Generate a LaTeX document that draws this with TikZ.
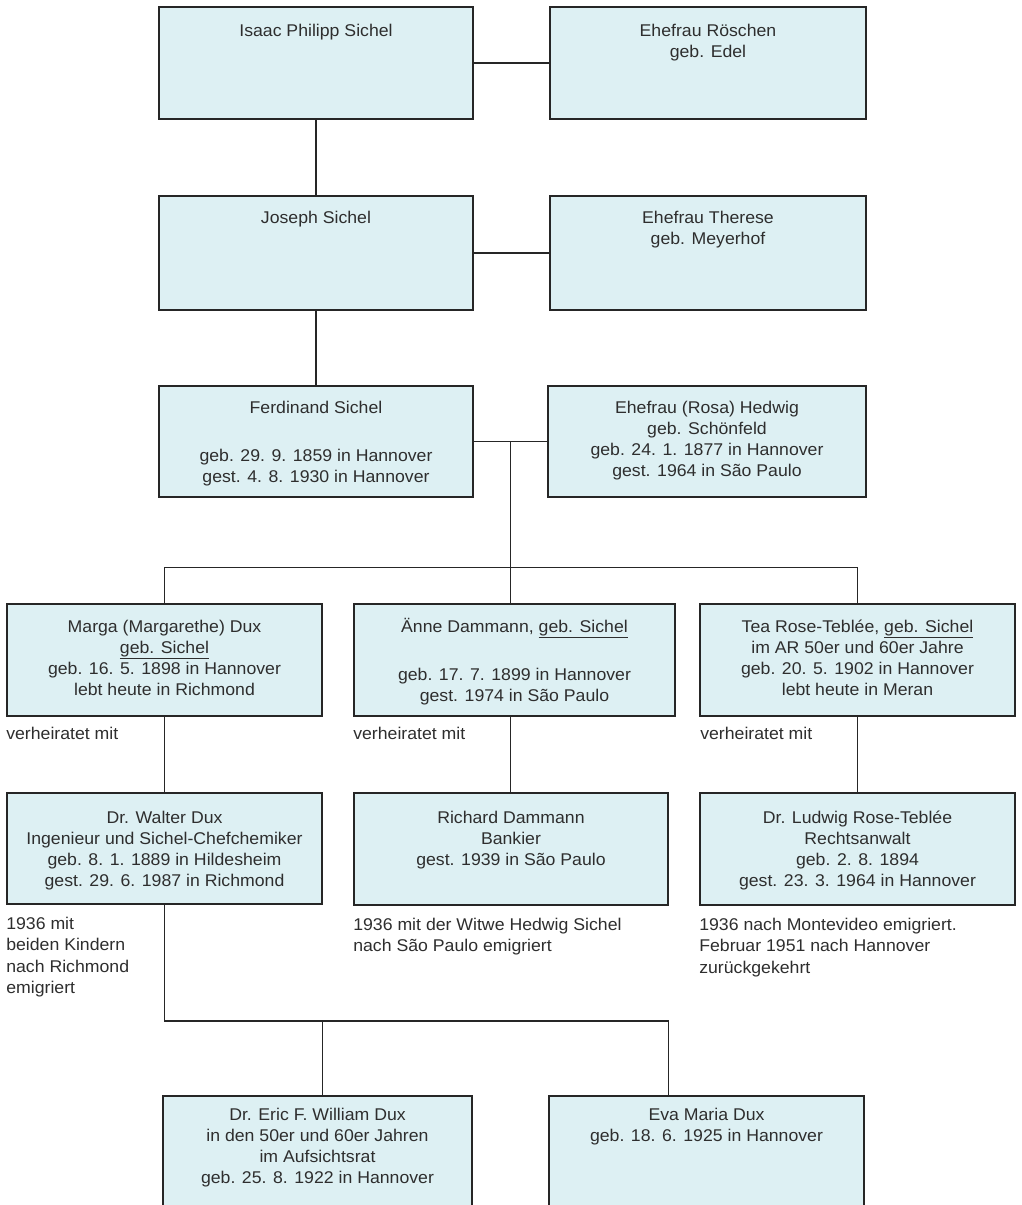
\documentclass[tikz,border=0pt]{standalone}
\usepackage{fontspec}
\setmainfont{Liberation Sans}[FakeStretch=1.04]
\definecolor{boxfill}{RGB}{221,240,243}
\definecolor{linecol}{HTML}{262626}
\definecolor{txtcol}{HTML}{2E2E2E}
\newcommand\mystrut{\rule{0pt}{16pt}}
\begin{document}
\begin{tikzpicture}[x=1pt,y=-1pt,
 box/.style={draw=linecol,line width=1.8pt,fill=boxfill,inner sep=0pt,minimum width=315pt,minimum height=112pt},
 txt/.style={anchor=north,inner sep=0pt,align=center,text=txtcol,font=\fontsize{17}{21}\selectfont},
 note/.style={anchor=north west,inner sep=0pt,align=left,text=txtcol,font=\fontsize{17}{21.5}\selectfont},
 conn/.style={draw=linecol,line width=1.6pt}]
\useasboundingbox (0,0) rectangle (1022,1205);
\fill[white] (0,0) rectangle (1022,1205);
\clip (0,0) rectangle (1022,1205);

% boxes
\node[box,minimum width=314pt] (isaac) at (316,63) {};
\node[box,minimum width=316pt] (roeschen) at (708,63) {};
\node[box,minimum width=314pt,minimum height=114pt] (joseph) at (316,253) {};
\node[box,minimum width=316pt,minimum height=114pt] (therese) at (708,253) {};
\node[box,minimum width=314pt,minimum height=111pt] (ferd) at (316,441.5) {};
\node[box,minimum width=318pt,minimum height=111pt] (hedwig) at (707,441.5) {};
\node[box] (marga) at (164.5,660) {};
\node[box,minimum width=321pt] (aenne) at (514.5,660) {};
\node[box] (tea) at (857.5,660) {};
\node[box,minimum height=111pt] (walter) at (164.5,848.5) {};
\node[box,minimum width=314pt] (richard) at (511,849) {};
\node[box] (ludwig) at (857.5,849) {};
\node[box,minimum width=309pt,minimum height=134pt] (eric) at (317.5,1163) {};
\node[box,minimum height=134pt] (eva) at (706.5,1163) {};

% connectors
\draw[conn] (isaac.east) -- (roeschen.west);
\draw[conn] (isaac.south) -- (joseph.north);
\draw[conn,line width=2.6pt] (joseph.east) -- (therese.west);
\draw[conn] (joseph.south) -- (ferd.north);
\draw[conn] (ferd.east) -- coordinate (fh) (hedwig.west);
\path (fh) ++(0,126) coordinate (bar);
\draw[conn] (fh) -- (bar);
\draw[conn] (marga.north) |- (bar) -| (tea.north);
\draw[conn] (bar) -- (bar |- aenne.north);
\draw[conn] (marga.south) -- (walter.north);
\draw[conn] (bar |- aenne.south) -- (bar |- richard.north);
\draw[conn] (tea.south) -- (ludwig.north);
\path (walter.south) ++(0,116) coordinate (kbar);
\coordinate (ericin) at ([xshift=5pt]eric.north);
\coordinate (evain) at ([xshift=-38pt]eva.north);
\draw[conn] (walter.south) -- (kbar) -| (evain);
\draw[conn] (ericin |- kbar) -- (ericin);

% texts in boxes
\node[txt] (tisaac) at ([yshift=-14pt]isaac.north) {\mystrut Isaac Philipp Sichel};
\node[txt] (troeschen) at ([yshift=-14pt]roeschen.north) {\mystrut Ehefrau Röschen\\geb. Edel};
\node[txt] (tjoseph) at ([yshift=-12pt]joseph.north) {\mystrut Joseph Sichel};
\node[txt] (ttherese) at ([yshift=-12pt]therese.north) {\mystrut Ehefrau Therese\\geb. Meyerhof};
\node[txt] (tferd) at ([yshift=-12pt]ferd.north) {\mystrut Ferdinand Sichel\\[27pt]geb. 29. 9. 1859 in Hannover\\gest. 4. 8. 1930 in Hannover};
\node[txt] (thedwig) at ([yshift=-12pt]hedwig.north) {\mystrut Ehefrau (Rosa) Hedwig\\geb. Schönfeld\\geb. 24. 1. 1877 in Hannover\\gest. 1964 in São Paulo};
\node[txt] (tmarga) at ([yshift=-13pt]marga.north) {\mystrut Marga (Margarethe) Dux\\\underline{geb. Sichel}\\geb. 16. 5. 1898 in Hannover\\lebt heute in Richmond};
\node[txt] (taenne) at ([yshift=-13pt]aenne.north) {\mystrut Änne Dammann, \underline{geb. Sichel}\\[27pt]geb. 17. 7. 1899 in Hannover\\gest. 1974 in São Paulo};
\node[txt] (ttea) at ([yshift=-13pt]tea.north) {\mystrut Tea Rose-Teblée, \underline{geb. Sichel}\\im AR 50er und 60er Jahre\\geb. 20. 5. 1902 in Hannover\\lebt heute in Meran};
\node[txt] (twalter) at ([yshift=-15pt]walter.north) {\mystrut Dr. Walter Dux\\Ingenieur und Sichel-Chefchemiker\\geb. 8. 1. 1889 in Hildesheim\\gest. 29. 6. 1987 in Richmond};
\node[txt] (trichard) at ([yshift=-15pt]richard.north) {\mystrut Richard Dammann\\Bankier\\gest. 1939 in São Paulo};
\node[txt] (tludwig) at ([yshift=-15pt]ludwig.north) {\mystrut Dr. Ludwig Rose-Teblée\\Rechtsanwalt\\geb. 2. 8. 1894\\gest. 23. 3. 1964 in Hannover};
\node[txt] (teric) at ([yshift=-9pt]eric.north) {\mystrut Dr. Eric F. William Dux\\in den 50er und 60er Jahren\\im Aufsichtsrat\\geb. 25. 8. 1922 in Hannover};
\node[txt] (teva) at ([yshift=-9pt]eva.north) {\mystrut Eva Maria Dux\\geb. 18. 6. 1925 in Hannover};

% notes
\node[note] (nmarga) at ([yshift=-6pt]marga.south west) {\mystrut verheiratet mit};
\node[note] (naenne) at ([yshift=-6pt]aenne.south west) {\mystrut verheiratet mit};
\node[note] (ntea) at ([xshift=1pt,yshift=-6pt]tea.south west) {\mystrut verheiratet mit};
\node[note] (nwalter) at ([yshift=-8pt]walter.south west) {\mystrut 1936 mit\\beiden Kindern\\nach Richmond\\emigriert};
\node[note] (nrichard) at ([yshift=-8pt]richard.south west) {\mystrut 1936 mit der Witwe Hedwig Sichel\\nach São Paulo emigriert};
\node[note] (nludwig) at ([yshift=-8pt]ludwig.south west) {\mystrut 1936 nach Montevideo emigriert.\\Februar 1951 nach Hannover\\zurückgekehrt};
\end{tikzpicture}
\end{document}
